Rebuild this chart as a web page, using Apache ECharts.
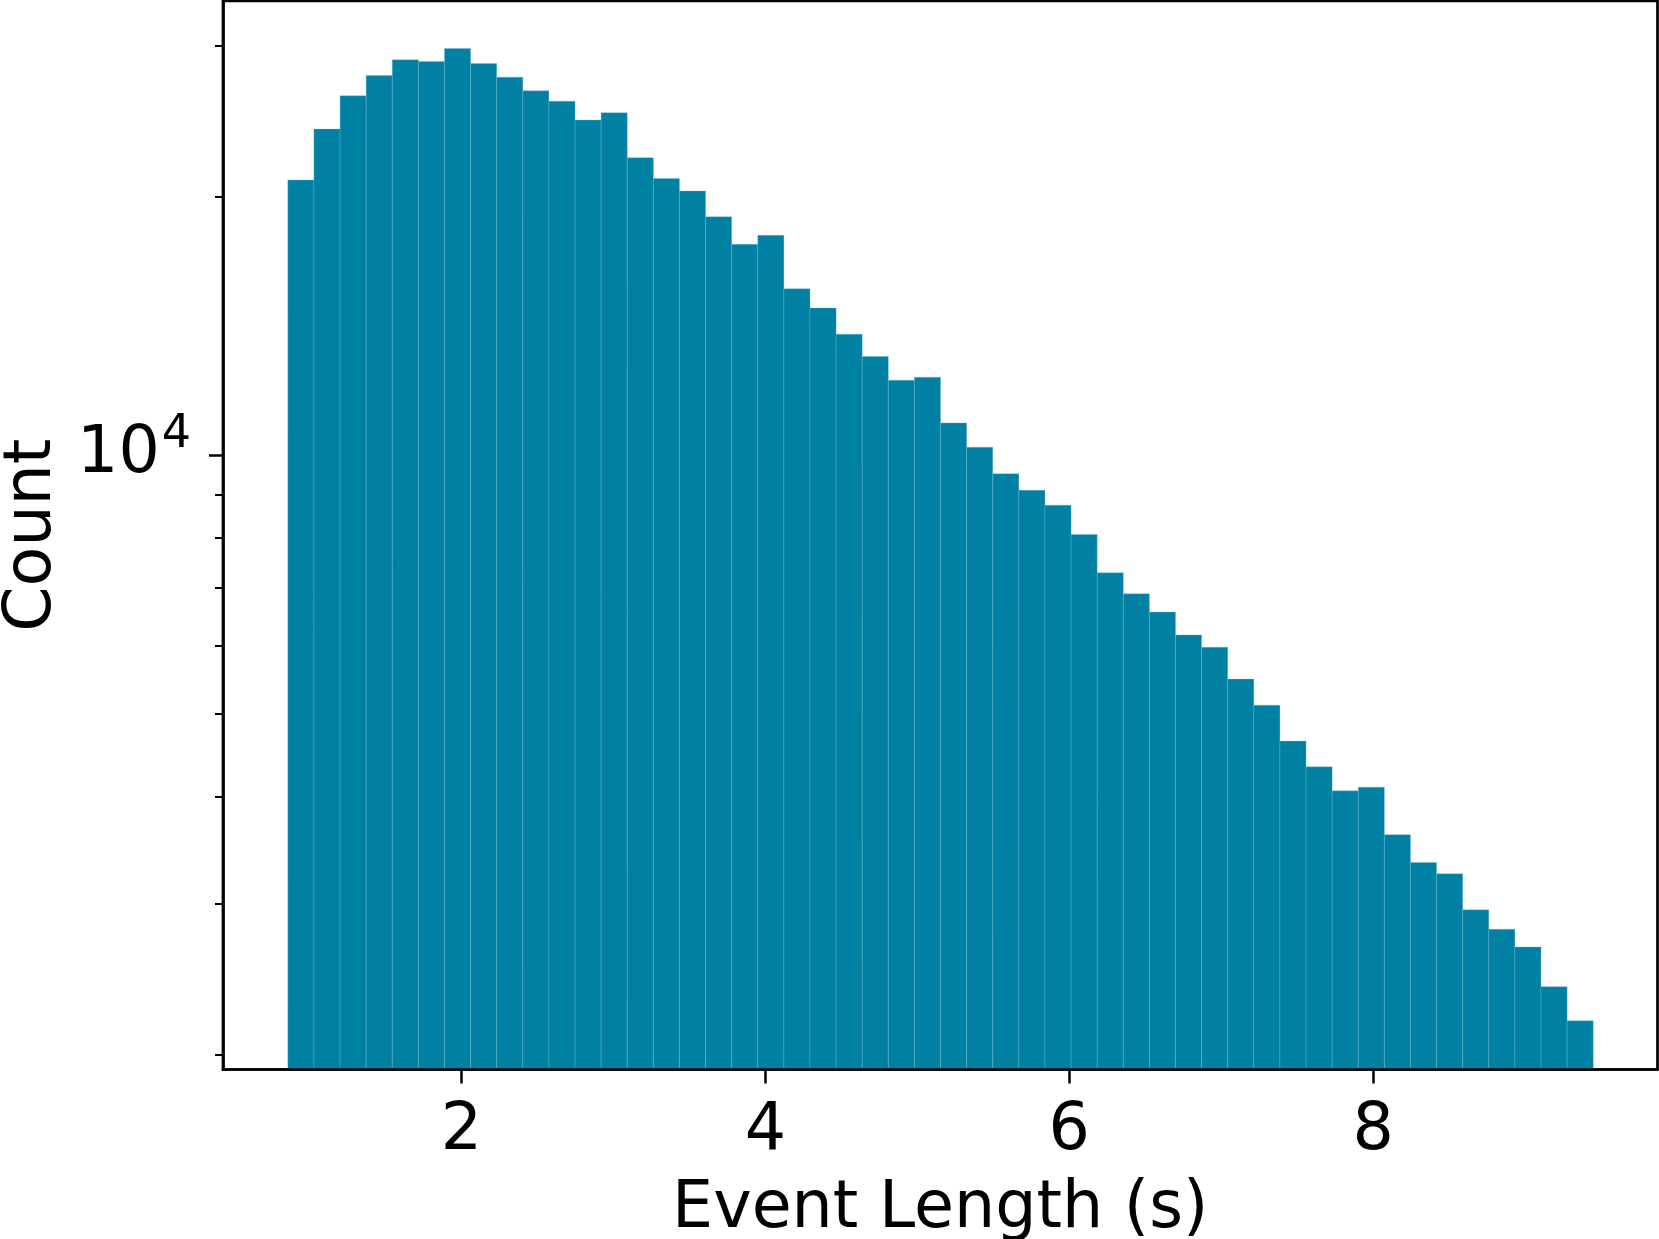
<!DOCTYPE html>
<html>
<head>
<meta charset="utf-8">
<script src="https://cdn.jsdelivr.net/npm/echarts@6/dist/echarts.min.js"></script>
<style>
  html, body { margin: 0; padding: 0; background: #fff; }
  #chart { width: 1659px; height: 1239px; }
</style>
</head>
<body>
<div id="chart"></div>
<script>
// ---- data ----
const binStart = 0.8586;        // left edge of first bin (s)
const binWidth = 0.17177;       // bin width (s)
const counts = [
  20920, 23980, 26220, 27700, 28880, 28750, 29770, 28600, 27570, 26580,
  25850, 24570, 25060, 22210, 21010, 20310, 18950, 17600, 18030, 15620,
  14840, 13830, 13030, 12220, 12320, 10900, 10210, 9510, 9100, 8740,
  8080, 7290, 6890, 6560, 6170, 5970, 5480, 5110, 4640, 4330,
  4060, 4100, 3610, 3350, 3250, 2950, 2800, 2670, 2400, 2190
];
const xTicks = [2, 4, 6, 8];
const yMajorTicks = [10000];
const yMinorTicks = [2000, 3000, 4000, 5000, 6000, 7000, 8000, 9000, 20000, 30000];
const xRange = [0.432, 9.870];
const yRange = [1922, 33820];

// histogram table: [left edge, right edge, count]
const histData = counts.map((c, i) => [binStart + i * binWidth, binStart + (i + 1) * binWidth, c]);

const FONT = 'DejaVu Sans';
const chart = echarts.init(document.getElementById('chart'), null, { renderer: 'canvas' });

chart.setOption({
  animation: false,
  backgroundColor: '#ffffff',
  grid: {
    left: 223, right: 1.5, top: 1, bottom: 169.5,
    outerBoundsMode: 'none',
    containLabel: false,
    show: true, borderColor: '#000', borderWidth: 2.7, backgroundColor: 'transparent'
  },
  xAxis: {
    type: 'value',
    min: xRange[0], max: xRange[1],
    z: 10,
    name: 'Event Length (s)',
    nameLocation: 'middle',
    nameGap: 108,
    nameTextStyle: { fontFamily: FONT, fontSize: 65, color: '#000' },
    axisLine: { show: true, lineStyle: { color: '#000', width: 2.7 } },
    axisTick: { show: true, customValues: xTicks, length: 14, lineStyle: { color: '#000', width: 2.5 } },
    axisLabel: { show: true, customValues: xTicks, margin: 30, fontFamily: FONT, fontSize: 65, color: '#000' },
    splitLine: { show: false }
  },
  yAxis: [
    {
      type: 'log', logBase: 10,
      min: yRange[0], max: yRange[1],
      z: 10,
      name: 'Count',
      nameLocation: 'middle',
      nameGap: 157,
      nameTextStyle: { fontFamily: FONT, fontSize: 65, color: '#000' },
      axisLine: { show: true, lineStyle: { color: '#000', width: 2.7 } },
      axisTick: { show: true, customValues: yMajorTicks, length: 14, lineStyle: { color: '#000', width: 2.5 } },
      axisLabel: {
        show: true, customValues: yMajorTicks, margin: 32,
        formatter: function (v) {
          const e = Math.round(Math.log10(v));
          return '{b|10}{s|' + e + '}';
        },
        rich: {
          b: { fontFamily: FONT, fontSize: 65, color: '#000', lineHeight: 65, verticalAlign: 'middle' },
          s: { fontFamily: FONT, fontSize: 46, color: '#000', lineHeight: 85, verticalAlign: 'top', padding: [0, 0, 0, 2] }
        }
      },
      splitLine: { show: false }
    },
    {
      type: 'log', logBase: 10,
      min: yRange[0], max: yRange[1],
      position: 'left',
      z: 10,
      axisLine: { show: false },
      axisTick: { show: true, customValues: yMinorTicks, length: 8, lineStyle: { color: '#000', width: 2 } },
      axisLabel: { show: false },
      splitLine: { show: false }
    }
  ],
  series: [{
    type: 'custom',
    clip: true,
    data: histData,
    encode: { x: [0, 1], y: 2 },
    renderItem: function (params, api) {
      const x0 = api.value(0), x1 = api.value(1), c = api.value(2);
      const pTop = api.coord([x0, c]);
      const pBot = api.coord([x1, yRange[0]]);
      return {
        type: 'rect',
        shape: { x: pTop[0], y: pTop[1], width: pBot[0] - pTop[0], height: pBot[1] - pTop[1] },
        style: { fill: '#0080a3', stroke: 'rgba(110,185,205,0.35)', lineWidth: 1 }
      };
    }
  }]
});
</script>
</body>
</html>
